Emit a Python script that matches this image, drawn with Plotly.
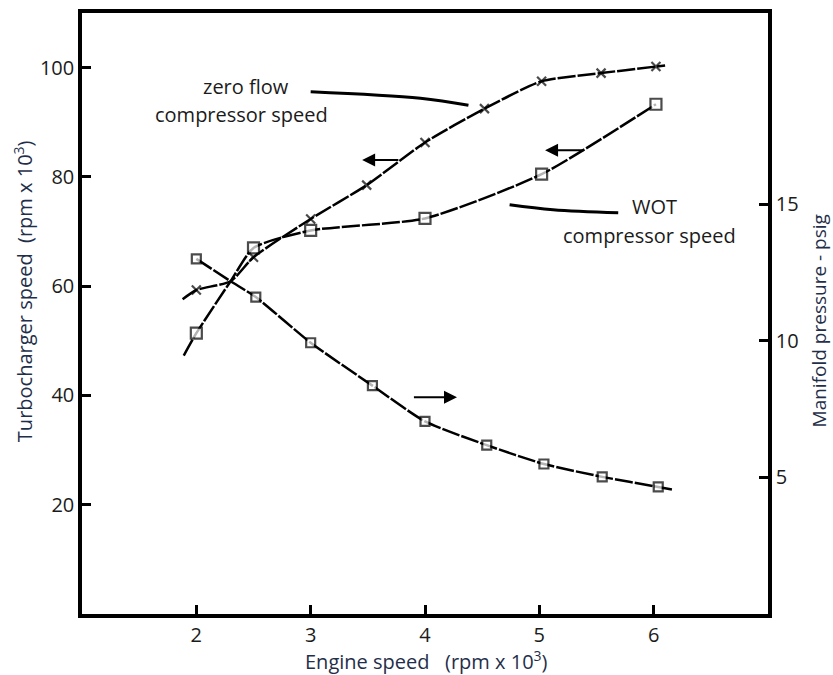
import plotly.graph_objects as go

# ---- data ----
zero_x = [1.88, 2.0, 2.3, 2.5, 3.0, 3.49, 4.0, 4.52, 5.02, 5.54, 6.02, 6.1]
zero_y = [57.6, 59.3, 60.9, 65.3, 72.3, 78.5, 86.3, 92.5, 97.5, 99.0, 100.2, 100.4]
zero_mark = [0, 1, 0, 1, 1, 1, 1, 1, 1, 1, 1, 0]

wot_x = [1.89, 2.0, 2.3, 2.5, 3.0, 4.0, 5.02, 6.02]
wot_y = [47.3, 51.4, 60.9, 67.0, 70.2, 72.4, 80.5, 93.3]
wot_mark = [0, 1, 0, 1, 1, 1, 1, 1]

man_x = [2.0, 2.3, 2.52, 3.0, 3.54, 4.0, 4.54, 5.04, 5.55, 6.04, 6.17]
man_y = [13.0, 12.18, 11.6, 9.93, 8.36, 7.05, 6.18, 5.49, 5.02, 4.65, 4.55]
man_mark = [1, 0, 1, 1, 1, 1, 1, 1, 1, 1, 0]

# leader lines (engine speed, turbo speed)
lead_zero_x = [3.0, 3.96, 4.38]
lead_zero_y = [95.6, 94.4, 93.1]
lead_wot_x = [4.74, 5.12, 5.69]
lead_wot_y = [74.9, 74.0, 73.45]

x_ticks = [2, 3, 4, 5, 6]
yl_ticks = [20, 40, 60, 80, 100]
yr_ticks = [5, 10, 15]

FONT = "Open Sans"
TXT = "#1b1b1b"
TITLE = "#1f2f4a"
FS = 20

fig = go.Figure()

def curve(xs, ys, marks, symbol, size, yaxis="y"):
    fig.add_trace(go.Scatter(
        x=xs, y=ys, mode="lines+markers", yaxis=yaxis,
        line=dict(color="black", width=2.5, dash="18px,2px", shape="spline", smoothing=0.6),
        marker=dict(symbol=symbol, size=[size if m else 0 for m in marks],
                    color="white" if "square" in symbol else "black",
                    line=dict(color="black", width=2.2)),
        showlegend=False, hoverinfo="skip"))

curve(zero_x, zero_y, zero_mark, "x-thin", 9)
curve(wot_x, wot_y, wot_mark, "square", 11)
curve(man_x, man_y, man_mark, "square", 9, yaxis="y2")

for lx, ly in [(lead_zero_x, lead_zero_y), (lead_wot_x, lead_wot_y)]:
    fig.add_trace(go.Scatter(x=lx, y=ly, mode="lines",
                             line=dict(color="black", width=3, shape="spline"),
                             showlegend=False, hoverinfo="skip"))

ann = []
def label(x, y, text, yref="y"):
    ann.append(dict(x=x, y=y, xref="x", yref=yref, text=text, showarrow=False,
                    xanchor="center", yanchor="middle",
                    font=dict(family=FONT, size=FS, color=TXT)))

label(2.43, 96.5, "zero flow")
label(2.395, 91.5, "compressor speed")
label(6.01, 74.5, "WOT")
label(5.96, 69.3, "compressor speed")

def arrow(x0, x1, y, yref="y"):
    ann.append(dict(x=x1, y=y, ax=x0, ay=y, xref="x", yref=yref, axref="x",
                    ayref=yref, showarrow=True, arrowhead=2, arrowsize=1.3,
                    arrowwidth=2, arrowcolor="black", text=""))

arrow(3.78, 3.45, 83.1)
arrow(5.40, 5.05, 84.9)
arrow(3.89, 4.28, 7.93, yref="y2")

# axis titles
ann.append(dict(xref="paper", yref="paper", x=(23 - 82) / 686, y=(614 - 289) / 605,
                xanchor="center", yanchor="middle",
                text="Turbocharger speed  (rpm x 10<sup>3</sup>)", textangle=-90,
                showarrow=False, font=dict(family=FONT, size=FS, color=TITLE)))
ann.append(dict(xref="paper", yref="paper", x=(819 - 82) / 686, y=(614 - 319.5) / 605,
                xanchor="center", yanchor="middle",
                text="Manifold pressure - psig", textangle=-90,
                showarrow=False, font=dict(family=FONT, size=19, color=TITLE)))
ann.append(dict(xref="paper", yref="paper", x=(426 - 82) / 686, y=(614 - 661) / 605,
                xanchor="center", yanchor="middle",
                text="Engine speed   (rpm x 10<sup>3</sup>)",
                showarrow=False, font=dict(family=FONT, size=FS, color=TITLE)))

axis_common = dict(ticks="inside", ticklen=9, tickwidth=2.5, tickcolor="black",
                   showline=True, linewidth=3.5, linecolor="black",
                   showgrid=False, zeroline=False,
                   tickfont=dict(family=FONT, size=FS, color=TXT))

fig.update_layout(
    width=833, height=675,
    margin=dict(l=82, r=65, t=9, b=61),
    paper_bgcolor="white", plot_bgcolor="white",
    font=dict(family=FONT, size=FS, color=TXT),
    annotations=ann,
    xaxis=dict(range=[1, 7], tickvals=x_ticks, mirror=True, **axis_common),
    yaxis=dict(range=[0, 110], tickvals=yl_ticks, **axis_common),
    yaxis2=dict(range=[0, 22], tickvals=yr_ticks, overlaying="y", side="right",
                **axis_common),
)

fig.write_html("out.html")
